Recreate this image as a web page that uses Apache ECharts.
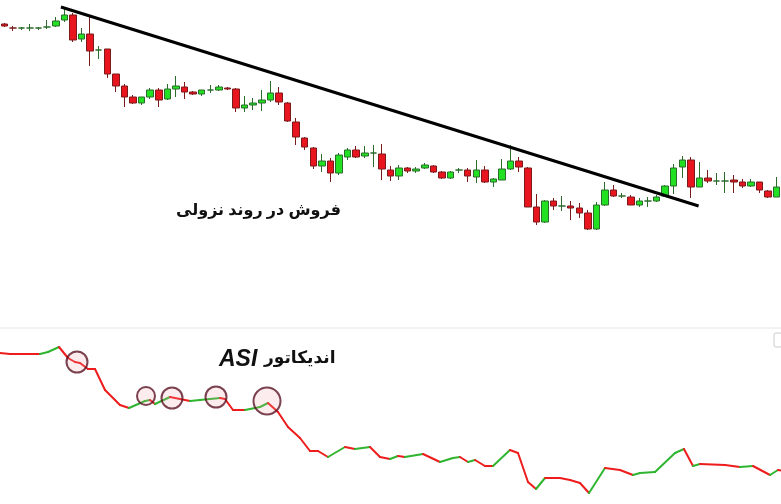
<!DOCTYPE html>
<html><head><meta charset="utf-8">
<script src="https://cdn.jsdelivr.net/npm/echarts@6/dist/echarts.min.js"></script>
<style>html,body{margin:0;padding:0;background:#fff}#c{width:781px;height:504px}</style>
</head><body><div id="c"></div>
<script>
// candles: [open, close, low, high]
const candles = [
[216,214,213,217],[212,212,209,214],[212,212,210,213],[212,212,209,216],[212,212,210,213],
[213,213,211,220],[214,219,213,223],[220,225,218,231],[225,200,198,227],[201,206,198,212],
[206,189,174,223],[190,190,181,194],[191,166,162,191],[166,154,148,166],[154,143,133,156],
[143,137,136,145],[137,143,135,143],[143,150,141,152],[150,140,133,152],[141,151,140,156],
[151,154,143,164],[153,148,141,158],[148,146,145,149],[146,150,144,150],[150,150,147,155],
[150,153,149,155],[152,151,150,153],[151,132,128,152],[132,135,128,144],[135,137,130,142],
[137,140,129,150],[140,147,138,159],[147,138,135,153],[137,119,118,138],[118,103,95,122],
[102,93,90,103],[92,74,71,93],[74,79,68,86],[79,67,58,82],[67,85,65,87],
[83,90,80,92],[90,83,82,94],[84,87,82,94],[87,87,73,95],[86,71,60,96],
[70,64,59,74],[64,72,60,75],[72,69,67,73],[69,71,67,73],[72,75,71,77],
[74,68,67,75],[68,62,61,69],[62,68,61,69],[70,70,67,72],[70,64,58,72],
[63,70,57,80],[70,58,57,74],[58,61,53,62],[60,71,60,81],[71,79,70,95],
[79,73,68,83],[72,33,33,73],[33,18,15,46],[18,39,17,40],[39,34,30,42],
[34,34,29,44],[34,32,20,39],[32,27,22,37],[27,11,10,30],[11,35,10,38],
[35,50,34,58],[50,44,43,55],[44,44,42,47],[43,35,35,45],[35,39,33,42],
[39,39,33,43],[39,43,38,45],[44,54,43,55],[54,72,46,76],[73,80,62,84],
[80,53,42,83],[53,62,53,78],[62,59,57,70],[59,59,55,67],[59,59,47,68],
[60,58,47,65],[58,54,52,61],[54,58,53,61],[58,50,47,58],[49,43,42,50],
[43,53,43,63]
];
const categories = candles.map((_, i) => 'D' + (i + 1));
// trendline endpoints [candle position, price]
const trend = [[6.6, 233], [80.9, 34]];
// ASI indicator: [time position, value]
const asi = [
[0,151],[10,150],[40,150],[48,152],[59,157],[68,146],[75,142],[80,141],[88,135],[95,135],
[105,114],[120,99],[129,96],[145,103],[150,104],[155,100],[170,107],[180,105],[190,103],[200,104],
[210,105],[220,106],[225,105],[233,94],[245,94],[260,97],[268,101],[278,92],[288,77],[300,66],
[310,53],[318,53],[328,47],[345,57],[355,55],[370,57],[380,47],[390,45],[398,48],[405,47],
[423,50],[440,42],[453,46],[460,47],[468,42],[475,44],[485,38],[493,38],[510,54],[518,51],
[528,22],[536,15],[545,26],[560,26],[570,24],[580,21],[589,11],[605,36],[620,34],[633,29],
[640,31],[655,32],[675,51],[684,55],[693,38],[700,40],[725,39],[740,37],[753,38],[770,29],
[778,34],[784,33]
];
// highlighted points [time, value, size]
const marks = [[77,142,21],[146,108,18],[172,106,21],[216,107,21],[267,103,27]];

const chart = echarts.init(document.getElementById('c'), null, {renderer: 'canvas'});
chart.setOption({
  animation: false,
  grid: [
    {left: -3, right: 0, top: 0, height: 320},
    {left: 0, right: 0, top: 330, height: 174}
  ],
  xAxis: [
    {type: 'category', data: categories, gridIndex: 0, show: false, boundaryGap: true},
    {type: 'value', gridIndex: 0, show: false, min: -0.5, max: 90.5},
    {type: 'value', gridIndex: 1, show: false, min: 0, max: 781}
  ],
  yAxis: [
    {type: 'value', gridIndex: 0, show: false, min: -80, max: 240, scale: true},
    {type: 'value', gridIndex: 1, show: false, min: 0, max: 174}
  ],
  graphic: [
    {type: 'line', shape: {x1: 0, y1: 328, x2: 781, y2: 328}, style: {stroke: '#e6e6e6', lineWidth: 1}},
    {type: 'rect', shape: {x: 774, y: 333, width: 8, height: 14, r: 2}, style: {fill: '#fff', stroke: '#ccc'}},
    {type: 'text', left: 176, top: 202, style: {text: 'فروش در روند نزولی', font: 'bold 16px "Noto Sans", "DejaVu Sans", sans-serif', fill: '#111'}},
    {type: 'text', left: 219, top: 348, style: {text: 'ASI', font: 'italic bold 23px "Liberation Sans", Roboto, sans-serif', fill: '#111'}},
    {type: 'text', left: 264, top: 350, style: {text: 'اندیکاتور', font: 'bold 17px "Noto Sans", "DejaVu Sans", sans-serif', fill: '#111'}}
  ],
  series: [
    {type: 'candlestick', xAxisIndex: 0, yAxisIndex: 0, data: candles, barWidth: 7,
     itemStyle: {color: '#22e022', color0: '#e8141e', borderColor: '#2b6b2b', borderColor0: '#7a1a1a', borderWidth: 1}},
    {type: 'line', xAxisIndex: 1, yAxisIndex: 0, data: trend, symbol: 'none',
     lineStyle: {color: '#000', width: 3}},
    {type: 'custom', xAxisIndex: 2, yAxisIndex: 1, data: asi.slice(0, -1).map((p, i) => [p[0], p[1], asi[i+1][0], asi[i+1][1]]),
     renderItem: function (params, api) {
       const a = api.coord([api.value(0), api.value(1)]);
       const b = api.coord([api.value(2), api.value(3)]);
       const up = api.value(3) > api.value(1);
       return {type: 'line', shape: {x1: a[0], y1: a[1], x2: b[0], y2: b[1]},
               style: {stroke: up ? '#2fb52f' : '#ee1c1c', lineWidth: 2, lineCap: 'round'}};
     }},
    {type: 'scatter', xAxisIndex: 2, yAxisIndex: 1, data: marks.map(m => [m[0], m[1]]),
     symbolSize: (v, p) => marks[p.dataIndex][2],
     itemStyle: {color: 'rgba(240,160,170,0.25)', borderColor: '#5a1424', borderWidth: 2}, z: 5}
  ]
});
</script></body></html>
